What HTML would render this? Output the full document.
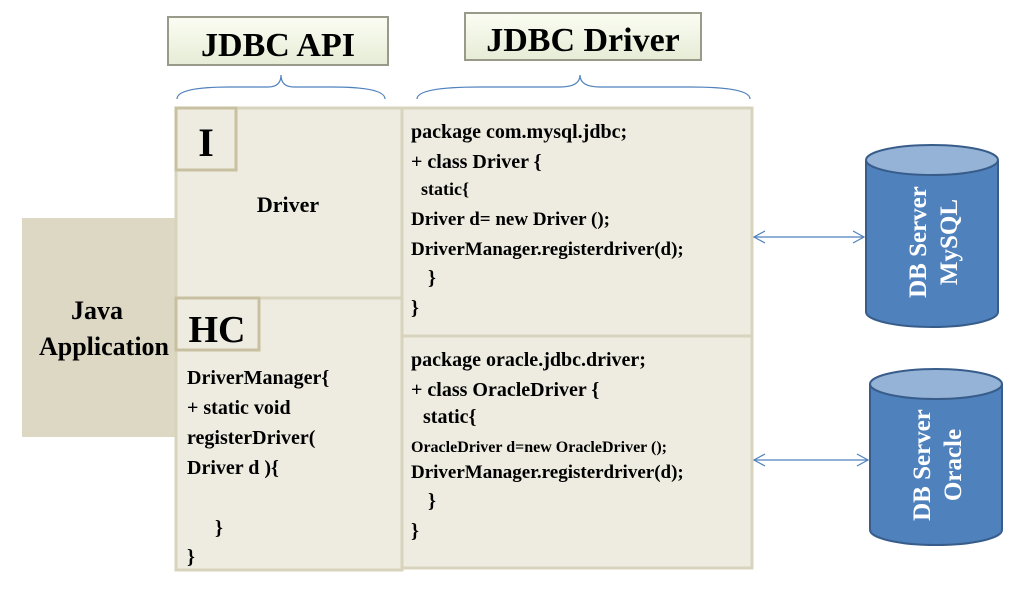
<!DOCTYPE html>
<html><head><style>body{margin:0;background:#fff}</style></head><body>
<svg width="1013" height="605" xmlns="http://www.w3.org/2000/svg" font-family="Liberation Serif, serif" font-weight="bold">
<defs><linearGradient id="g" x1="0" y1="0" x2="0" y2="1"><stop offset="0" stop-color="#fbfdf3"/><stop offset="1" stop-color="#e6ecd6"/></linearGradient></defs>
<rect x="168" y="17" width="220" height="48" fill="url(#g)" stroke="#9a9a8a" stroke-width="2"/>
<text x="278" y="56" font-size="34" text-anchor="middle">JDBC API</text>
<rect x="465" y="13" width="236" height="47" fill="url(#g)" stroke="#9a9a8a" stroke-width="2"/>
<text x="583" y="51" font-size="34" text-anchor="middle">JDBC Driver</text>
<path d="M177 99 Q177 87 230 87 L268 87 Q281 87 281 75 Q281 87 294 87 L332 87 Q385 87 385 99" fill="none" stroke="#4f81bd" stroke-width="1.2"/>
<path d="M417 99 Q417 87 480 87 L560 87 Q580 87 580 75 Q580 87 600 87 L690 87 Q750 87 750 99" fill="none" stroke="#4f81bd" stroke-width="1.2"/>
<rect x="22" y="218" width="154" height="219" fill="#ddd8c3"/>
<text x="97" y="319" font-size="26" text-anchor="middle">Java</text>
<text x="104" y="355" font-size="26" text-anchor="middle">Application</text>
<g fill="#eeece1" stroke="#d8d3bd" stroke-width="3">
<rect x="176" y="108" width="226" height="190"/>
<rect x="176" y="298" width="226" height="272"/>
<rect x="402" y="108" width="350" height="228"/>
<rect x="402" y="336" width="350" height="232"/>
<rect x="176" y="108" width="60" height="62" stroke="#c8c0a0"/>
<rect x="176" y="298" width="83" height="52" stroke="#c8c0a0"/>
</g>
<text x="206" y="156" font-size="40" text-anchor="middle">I</text>
<text x="217" y="342" font-size="38" text-anchor="middle">HC</text>
<text x="288" y="212" font-size="22" text-anchor="middle">Driver</text>
<g font-size="20">
<text x="187" y="384">DriverManager{</text>
<text x="187" y="414">+ static void</text>
<text x="187" y="444">registerDriver(</text>
<text x="187" y="474">Driver d ){</text>
<text x="215" y="534">}</text>
<text x="187" y="563">}</text>
<text x="411" y="138">package com.mysql.jdbc;</text>
<text x="411" y="168">+ class Driver {</text>
<text x="421" y="195" font-size="18">static{</text>
<text x="411" y="225" font-size="19">Driver  d= new Driver ();</text>
<text x="411" y="255" font-size="19">DriverManager.registerdriver(d);</text>
<text x="428" y="284">}</text>
<text x="411" y="314">}</text>
<text x="411" y="366">package oracle.jdbc.driver;</text>
<text x="411" y="396">+ class OracleDriver {</text>
<text x="423" y="423">static{</text>
<text x="411" y="452" font-size="16">OracleDriver  d=new OracleDriver ();</text>
<text x="411" y="478" font-size="19">DriverManager.registerdriver(d);</text>
<text x="428" y="507">}</text>
<text x="411" y="537">}</text>
</g>
<g stroke="#4f81bd" stroke-width="1.2" fill="none">
<line x1="754" y1="237" x2="864" y2="237"/><path d="M765 231 L754 237 L765 243 M853 231 L864 237 L853 243"/>
<line x1="754" y1="460" x2="868" y2="460"/><path d="M765 454 L754 460 L765 466 M857 454 L868 460 L857 466"/>
</g>
<g stroke="#385d8a" stroke-width="2">
<path d="M866 160 L866 312 A66 15 0 0 0 998 312 L998 160" fill="#4f81bd"/>
<ellipse cx="932" cy="160" rx="66" ry="15" fill="#95b3d7"/>
<path d="M870 384 L870 530 A66 15 0 0 0 1002 530 L1002 384" fill="#4f81bd"/>
<ellipse cx="936" cy="384" rx="66" ry="15" fill="#95b3d7"/>
</g>
<g fill="#fff" font-size="25" text-anchor="middle">
<text transform="translate(926,242) rotate(-90)">DB Server</text>
<text transform="translate(957,242) rotate(-90)">MySQL</text>
<text transform="translate(930,465) rotate(-90)">DB Server</text>
<text transform="translate(961,465) rotate(-90)">Oracle</text>
</g>
</svg>
</body></html>
